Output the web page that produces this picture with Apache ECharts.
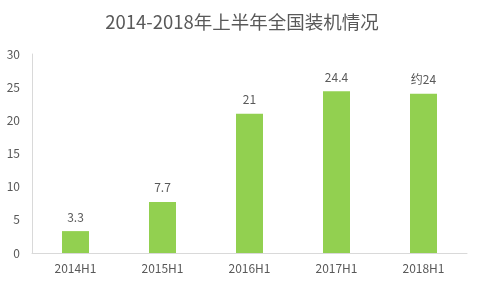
<!DOCTYPE html>
<html><head><meta charset="utf-8">
<script src="https://cdn.jsdelivr.net/npm/echarts@6/dist/echarts.min.js"></script>
<style>html,body{margin:0;padding:0;background:#fff}#c{width:484px;height:289px}</style>
</head><body><div id="c"></div>
<script>
var categories = ['2014H1','2015H1','2016H1','2017H1','2018H1'];
var values = [3.3, 7.7, 21, 24.4, 24];
var valueLabels = ['3.3','7.7','21','24.4','约24'];
var titleText = '2014-2018年上半年全国装机情况';

var chart = echarts.init(document.getElementById('c'), null, {renderer:'canvas'});
var font = '"Noto Sans CJK SC", "Noto Sans", sans-serif';
chart.setOption({
  animation:false,
  title:{text:titleText,left:'center',top:8,textStyle:{fontFamily:font,fontSize:18.5,fontWeight:'normal',color:'#595959'}},
  grid:{left:32,right:17,top:54,bottom:36},
  xAxis:{type:'category',data:categories,
    axisLine:{lineStyle:{color:'#d9d9d9'}},axisTick:{show:false},
    axisLabel:{color:'#595959',fontSize:12,fontFamily:font,margin:9}},
  yAxis:{type:'value',min:0,max:30,interval:5,
    axisLine:{show:true,lineStyle:{color:'#d9d9d9'}},axisTick:{show:false},
    splitLine:{show:false},
    axisLabel:{color:'#595959',fontSize:12,fontFamily:font,margin:12}},
  series:[{type:'bar',data:values,barWidth:27,itemStyle:{color:'#92d050'},
    label:{show:true,position:'top',distance:8,color:'#595959',fontSize:12,fontFamily:font,
      formatter:function(p){return valueLabels[p.dataIndex];}}}]
});
</script></body></html>
